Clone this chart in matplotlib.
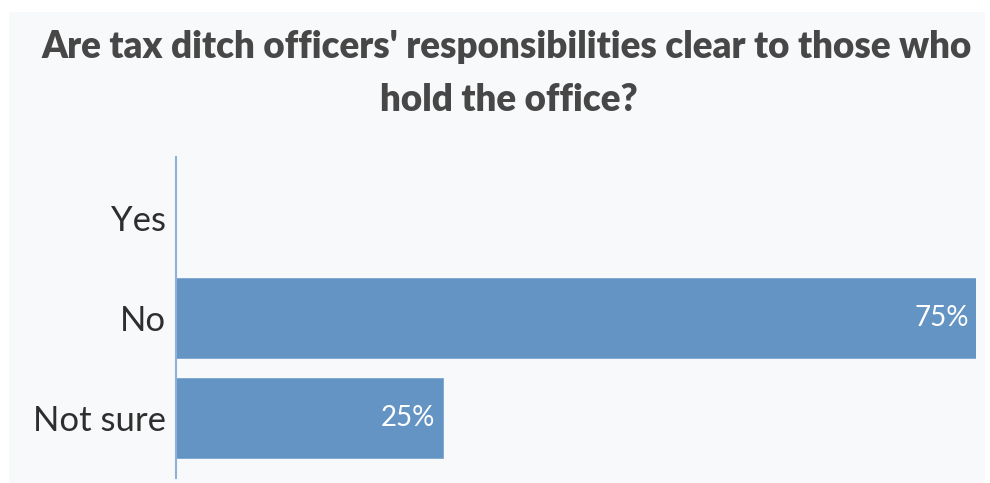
import matplotlib
matplotlib.use("Agg")
import matplotlib.pyplot as plt
from matplotlib.patches import Rectangle

categories = ["Yes", "No", "Not sure"]
shares = [0, 75, 25]

bar_color = "#6394c4"
panel_color = "#f8f9fb"

plt.rcParams["font.family"] = ["Lato", "DejaVu Sans"]

fig = plt.figure(figsize=(9.9, 4.83), dpi=100)
fig.patch.set_facecolor("white")
# light panel behind the whole chart
fig.patches.append(Rectangle((9 / 990, 0), 976 / 990, 1 - 12 / 483,
                             transform=fig.transFigure, facecolor=panel_color,
                             edgecolor="none", zorder=-5))

ax = fig.add_axes([176 / 990, 5 / 483, 800 / 990, 321 / 483])
ax.set_zorder(2)
ax.set_facecolor("none")
ypos = list(range(len(categories)))
bars = ax.barh(ypos, shares, height=0.8, color=bar_color, edgecolor="#7aa5d0", linewidth=0.6)
ax.set_xlim(0, 75)
ax.set_ylim(2.6, -0.61)
ax.set_yticks(ypos)
ax.set_yticklabels(categories, fontsize=25, color="#2e2e2e")
ax.tick_params(axis="y", length=0, pad=7)
ax.set_xticks([])
for side in ["top", "right", "bottom"]:
    ax.spines[side].set_visible(False)
ax.spines["left"].set_color("#8fb1d9")
ax.spines["left"].set_linewidth(1.5)

for b, v in zip(bars, shares):
    if v > 0:
        ax.text(b.get_width() - 0.7, b.get_y() + b.get_height() / 2, f"{v}%",
                ha="right", va="center", color="white", fontsize=20)

fig.text(0.512, 1 - 47 / 483, "Are tax ditch officers' responsibilities clear to those who",
         ha="center", va="center", fontsize=26.5, fontweight="heavy", color="#474747")
fig.text(0.514, 1 - 100 / 483, "hold the office?",
         ha="center", va="center", fontsize=26.5, fontweight="heavy", color="#474747")

fig.savefig("out.png", dpi=100, facecolor=fig.get_facecolor())
